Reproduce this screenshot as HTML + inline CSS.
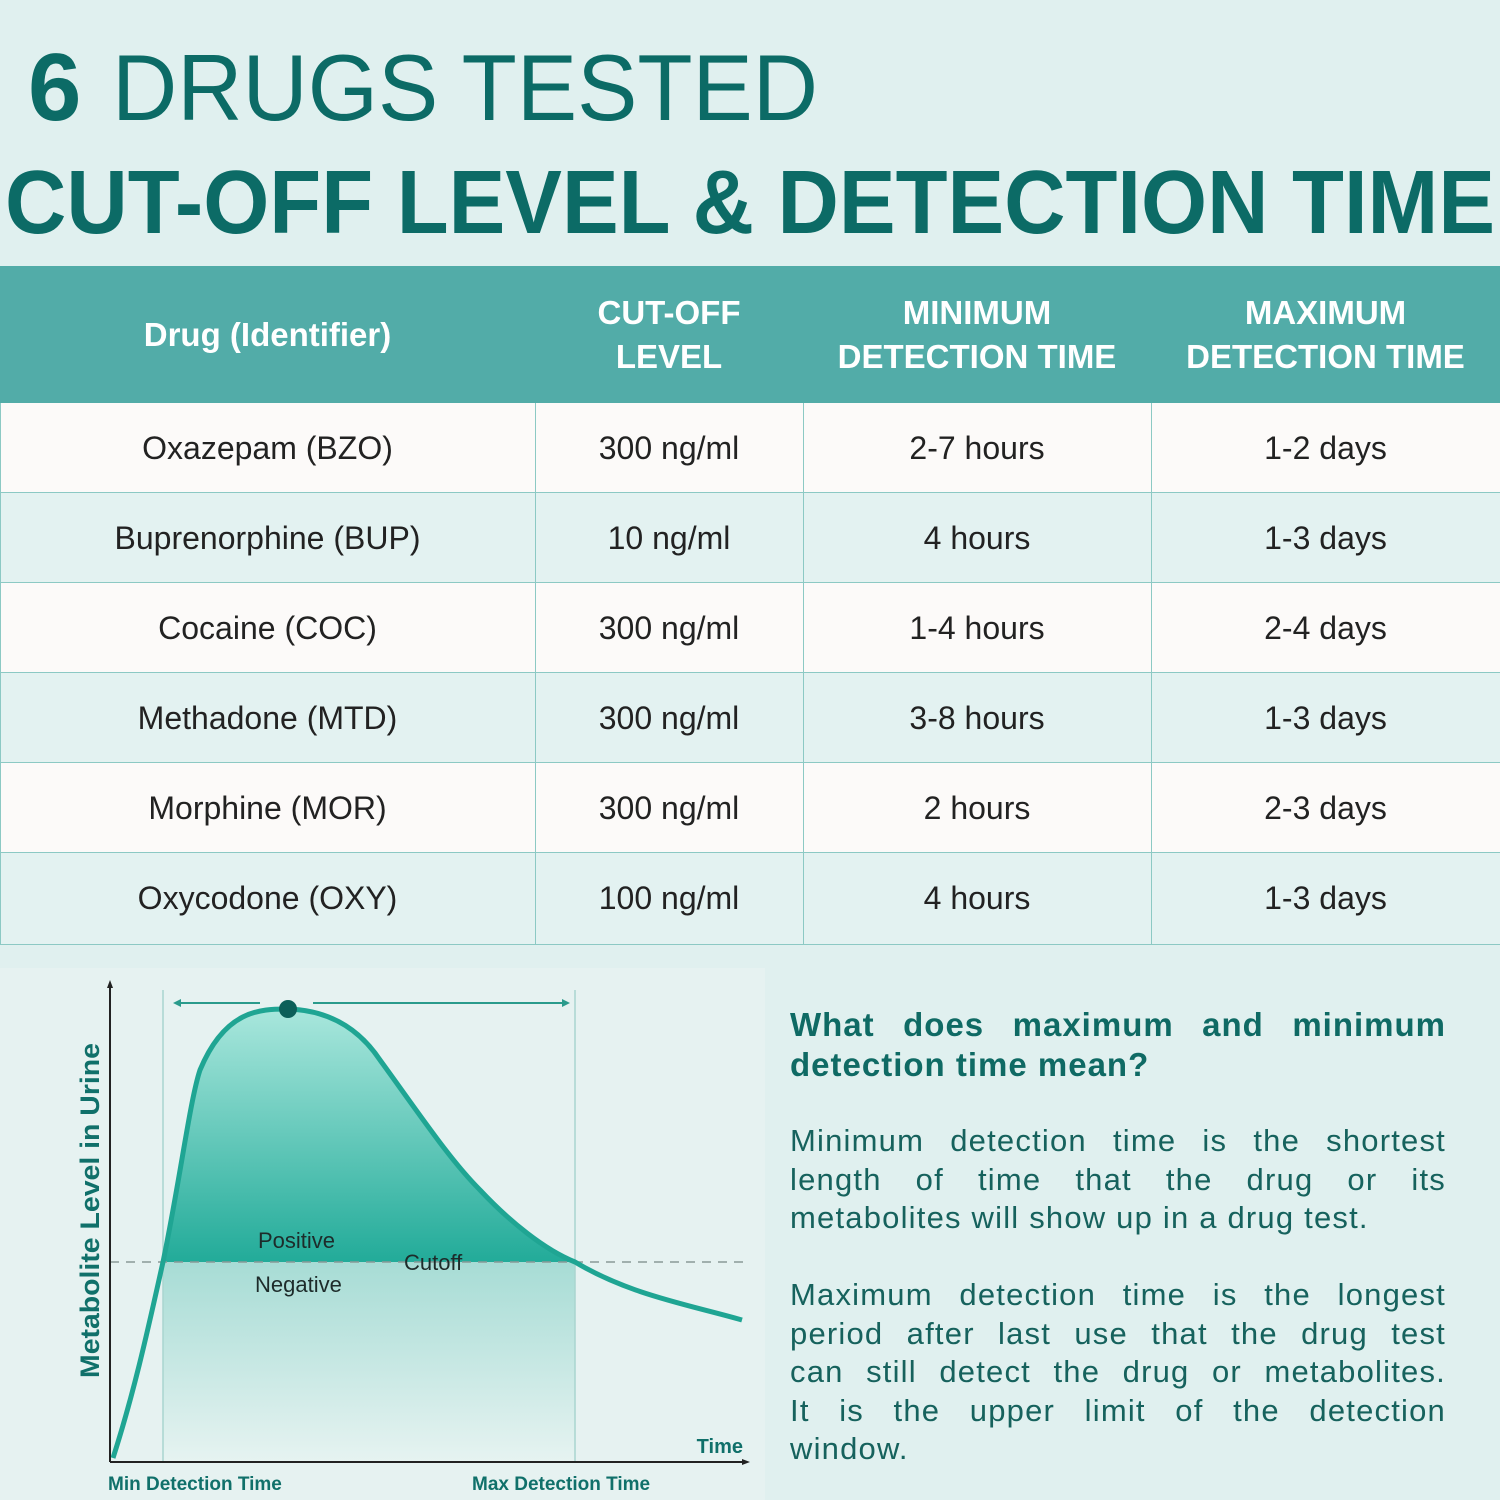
<!DOCTYPE html>
<html><head><meta charset="utf-8"><style>
body{margin:0;width:1500px;height:1500px;background:#e0f0ef;font-family:"Liberation Sans",sans-serif;overflow:hidden;position:relative}
.abs{position:absolute}
.row{position:absolute;left:0;width:1500px;height:89px;border-bottom:1px solid #8cc9c4}
.cell{position:absolute;top:0;height:90px;line-height:90px;text-align:center;font-size:32px;color:#222}
.vl{position:absolute;top:403px;height:542px;width:1px;background:#8cc9c4}
.hd{position:absolute;top:266px;height:137px;color:#fff;font-weight:bold;font-size:33px;text-align:center;display:flex;align-items:center;justify-content:center;line-height:44px}
.p{position:absolute;left:790px;width:656px;font-size:31px;color:#16625d;height:38px;line-height:38px;white-space:nowrap;letter-spacing:1.2px}
.j{text-align:justify;text-align-last:justify}
</style></head><body>
<svg class="abs" style="left:0;top:0" width="1500" height="260">
<text x="28" y="120" font-family="Liberation Sans" font-size="96" font-weight="bold" fill="#0c6b66">6</text>
<text x="112" y="120" font-family="Liberation Sans" font-size="94" fill="#0c6b66" textLength="706" lengthAdjust="spacingAndGlyphs">DRUGS TESTED</text>
<text x="5" y="233" font-family="Liberation Sans" font-weight="bold" font-size="90" fill="#0c6b66" textLength="1490" lengthAdjust="spacingAndGlyphs">CUT-OFF LEVEL &amp; DETECTION TIME</text>
</svg>
<div class="abs" style="left:0;top:266px;width:1500px;height:137px;background:#52aca8"></div>
<div class="hd" style="left:0;width:535px">Drug (Identifier)</div>
<div class="hd" style="left:535px;width:268px">CUT-OFF<br>LEVEL</div>
<div class="hd" style="left:803px;width:348px">MINIMUM<br>DETECTION TIME</div>
<div class="hd" style="left:1151px;width:349px">MAXIMUM<br>DETECTION TIME</div>

<div class="row" style="top:403px;background:#fcfaf9"><div class="cell" style="left:0;width:535px">Oxazepam (BZO)</div><div class="cell" style="left:535px;width:268px">300 ng/ml</div><div class="cell" style="left:803px;width:348px">2-7 hours</div><div class="cell" style="left:1151px;width:349px">1-2 days</div></div>
<div class="row" style="top:493px;background:#e3f2f1"><div class="cell" style="left:0;width:535px">Buprenorphine (BUP)</div><div class="cell" style="left:535px;width:268px">10 ng/ml</div><div class="cell" style="left:803px;width:348px">4 hours</div><div class="cell" style="left:1151px;width:349px">1-3 days</div></div>
<div class="row" style="top:583px;background:#fcfaf9"><div class="cell" style="left:0;width:535px">Cocaine (COC)</div><div class="cell" style="left:535px;width:268px">300 ng/ml</div><div class="cell" style="left:803px;width:348px">1-4 hours</div><div class="cell" style="left:1151px;width:349px">2-4 days</div></div>
<div class="row" style="top:673px;background:#e3f2f1"><div class="cell" style="left:0;width:535px">Methadone (MTD)</div><div class="cell" style="left:535px;width:268px">300 ng/ml</div><div class="cell" style="left:803px;width:348px">3-8 hours</div><div class="cell" style="left:1151px;width:349px">1-3 days</div></div>
<div class="row" style="top:763px;background:#fcfaf9"><div class="cell" style="left:0;width:535px">Morphine (MOR)</div><div class="cell" style="left:535px;width:268px">300 ng/ml</div><div class="cell" style="left:803px;width:348px">2 hours</div><div class="cell" style="left:1151px;width:349px">2-3 days</div></div>
<div class="row" style="top:853px;height:91px;background:#e3f2f1"><div class="cell" style="left:0;width:535px">Oxycodone (OXY)</div><div class="cell" style="left:535px;width:268px">100 ng/ml</div><div class="cell" style="left:803px;width:348px">4 hours</div><div class="cell" style="left:1151px;width:349px">1-3 days</div></div>
<div class="vl" style="left:0"></div><div class="vl" style="left:535px"></div><div class="vl" style="left:803px"></div><div class="vl" style="left:1151px"></div>

<svg class="abs" style="left:0;top:968px" width="765" height="532" viewBox="0 968 765 532">
<defs>
<linearGradient id="g1" x1="0" y1="1000" x2="0" y2="1262" gradientUnits="userSpaceOnUse"><stop offset="0" stop-color="#aee9df"/><stop offset="1" stop-color="#22ab99"/></linearGradient>
<linearGradient id="g2" x1="0" y1="1262" x2="0" y2="1462" gradientUnits="userSpaceOnUse"><stop offset="0" stop-color="#a7dcd5"/><stop offset="1" stop-color="#e6f3f1"/></linearGradient>
</defs>
<rect x="0" y="968" width="765" height="532" fill="#e6f2f1"/>
<rect x="163" y="1262" width="412" height="200" fill="url(#g2)"/>
<path d="M163,1262 C180,1180 190,1100 200,1070 C225,1010 260,1009 287,1009 C330,1010 360,1030 380,1060 C420,1115 450,1160 480,1190 C510,1222 545,1250 575,1262 Z" fill="url(#g1)"/>
<line x1="163" y1="990" x2="163" y2="1462" stroke="#a9d5cf" stroke-width="1.5"/>
<line x1="575" y1="990" x2="575" y2="1462" stroke="#a9d5cf" stroke-width="1.5"/>
<line x1="110" y1="1262" x2="745" y2="1262" stroke="#8a9a98" stroke-width="1.5" stroke-dasharray="9,7"/>
<path d="M113,1458 C135,1390 150,1320 163,1262 C180,1180 190,1100 200,1070 C225,1010 260,1009 287,1009 C330,1010 360,1030 380,1060 C420,1115 450,1160 480,1190 C510,1222 545,1250 575,1262 C630,1295 690,1305 742,1320" fill="none" stroke="#1fa593" stroke-width="5"/>
<circle cx="288" cy="1009" r="9" fill="#0c5f59"/>
<line x1="175" y1="1003" x2="260" y2="1003" stroke="#2a9b8c" stroke-width="2"/>
<line x1="313" y1="1003" x2="568" y2="1003" stroke="#2a9b8c" stroke-width="2"/>
<path d="M173,1003 l8,-4 v8z M570,1003 l-8,-4 v8z" fill="#2a9b8c"/>
<line x1="110" y1="985" x2="110" y2="1462" stroke="#222" stroke-width="2"/>
<line x1="110" y1="1462" x2="745" y2="1462" stroke="#222" stroke-width="2"/>
<path d="M110,980 l-3,8 h6z M750,1462 l-8,-3 v6z" fill="#222"/>
<text x="258" y="1248" font-size="22" fill="#1d2b2a" font-family="Liberation Sans">Positive</text>
<text x="404" y="1270" font-size="22" fill="#1d2b2a" font-family="Liberation Sans">Cutoff</text>
<text x="255" y="1292" font-size="22" fill="#1d2b2a" font-family="Liberation Sans">Negative</text>
<text x="743" y="1453" font-size="20" font-weight="bold" fill="#10706a" text-anchor="end" font-family="Liberation Sans">Time</text>
<text x="108" y="1490" font-size="19" font-weight="bold" fill="#10706a" font-family="Liberation Sans">Min Detection Time</text>
<text x="472" y="1490" font-size="19" font-weight="bold" fill="#10706a" font-family="Liberation Sans">Max Detection Time</text>
<text transform="translate(99,1378) rotate(-90)" font-size="27" font-weight="bold" fill="#10706a" font-family="Liberation Sans" textLength="335" lengthAdjust="spacingAndGlyphs">Metabolite Level in Urine</text>
</svg>

<div class="p j" style="top:1006px;font-weight:bold;font-size:33px;color:#0f6a64;letter-spacing:1px">What does maximum and minimum</div>
<div class="p" style="top:1046px;font-weight:bold;font-size:33px;color:#0f6a64;letter-spacing:1px">detection time mean?</div>
<div class="p j" style="top:1122px">Minimum detection time is the shortest</div>
<div class="p j" style="top:1161px">length of time that the drug or its</div>
<div class="p" style="top:1199px">metabolites will show up in a drug test.</div>
<div class="p j" style="top:1276px">Maximum detection time is the longest</div>
<div class="p j" style="top:1315px">period after last use that the drug test</div>
<div class="p j" style="top:1353px">can still detect the drug or metabolites.</div>
<div class="p j" style="top:1392px">It is the upper limit of the detection</div>
<div class="p" style="top:1430px">window.</div>
</body></html>
